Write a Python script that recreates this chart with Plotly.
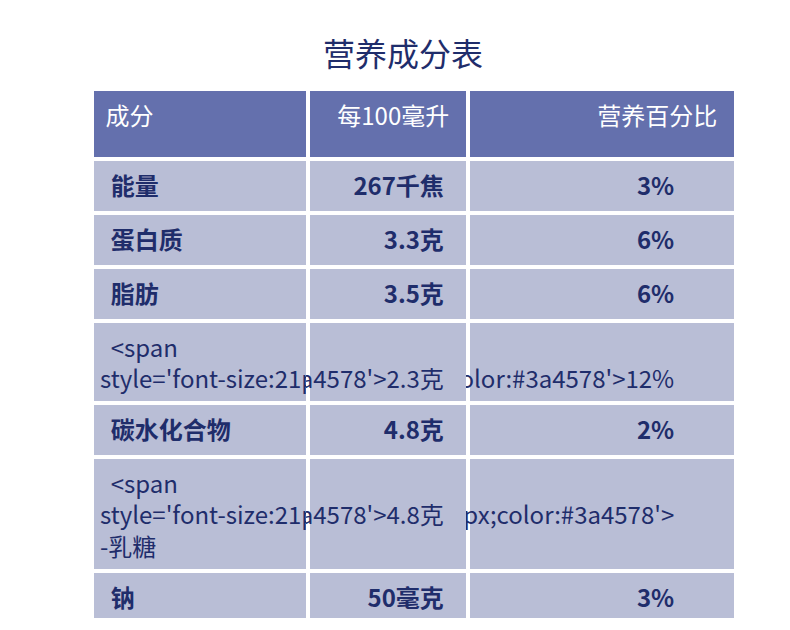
import plotly.graph_objects as go

headers = ["成分", "每100毫升", "营养百分比"]
nutrients = ["能量", "蛋白质", "脂肪", "-饱和脂肪", "碳水化合物", " -乳糖", "钠", "钙"]
per100 = ["267千焦", "3.3克", "3.5克", "2.3克", "4.8克", "4.8克", "50毫克", "120毫克"]
percent = ["3%", "6%", "6%", "12%", "2%", "", "3%", "15%"]
is_sub = [False, False, False, True, False, True, False, False]

dark = "#1f2d6b"


def fmt(t, sub):
    if sub:
        return "<span style='font-size:21px;color:#3a4578'>" + t + "</span>"
    return "<b>" + t + "</b>"


fig = go.Figure(go.Table(
    columnwidth=[216, 160, 268],
    header=dict(
        values=["&nbsp;" + headers[0], headers[1] + "&nbsp;&nbsp;", headers[2] + "&nbsp;&nbsp;"],
        align=["left", "right", "right"],
        fill_color="#6470ad",
        line=dict(color="white", width=4),
        font=dict(family="Noto Sans CJK SC", size=24, color="white"),
        height=70,
    ),
    cells=dict(
        values=[["&nbsp;&nbsp;" + fmt(n, s) for n, s in zip(nutrients, is_sub)],
                [fmt(p, s) + "&nbsp;" * 3 for p, s in zip(per100, is_sub)],
                [fmt(p, s) + "&nbsp;" * 10 for p, s in zip(percent, is_sub)]],
        align=["left", "right", "right"],
        fill_color="#b9bed6",
        line=dict(color="white", width=4),
        font=dict(family="Noto Sans CJK SC", size=24, color=dark),
        height=54,
    ),
))

fig.update_layout(
    width=790, height=630,
    margin=dict(l=84, r=62, t=81, b=20),
    paper_bgcolor="white",
    title=dict(text="营养成分表", x=0.5, xanchor="center", y=0.925, yanchor="middle",
               font=dict(family="Noto Sans CJK SC", size=32, color=dark)),
)
fig.write_html("out.html")
